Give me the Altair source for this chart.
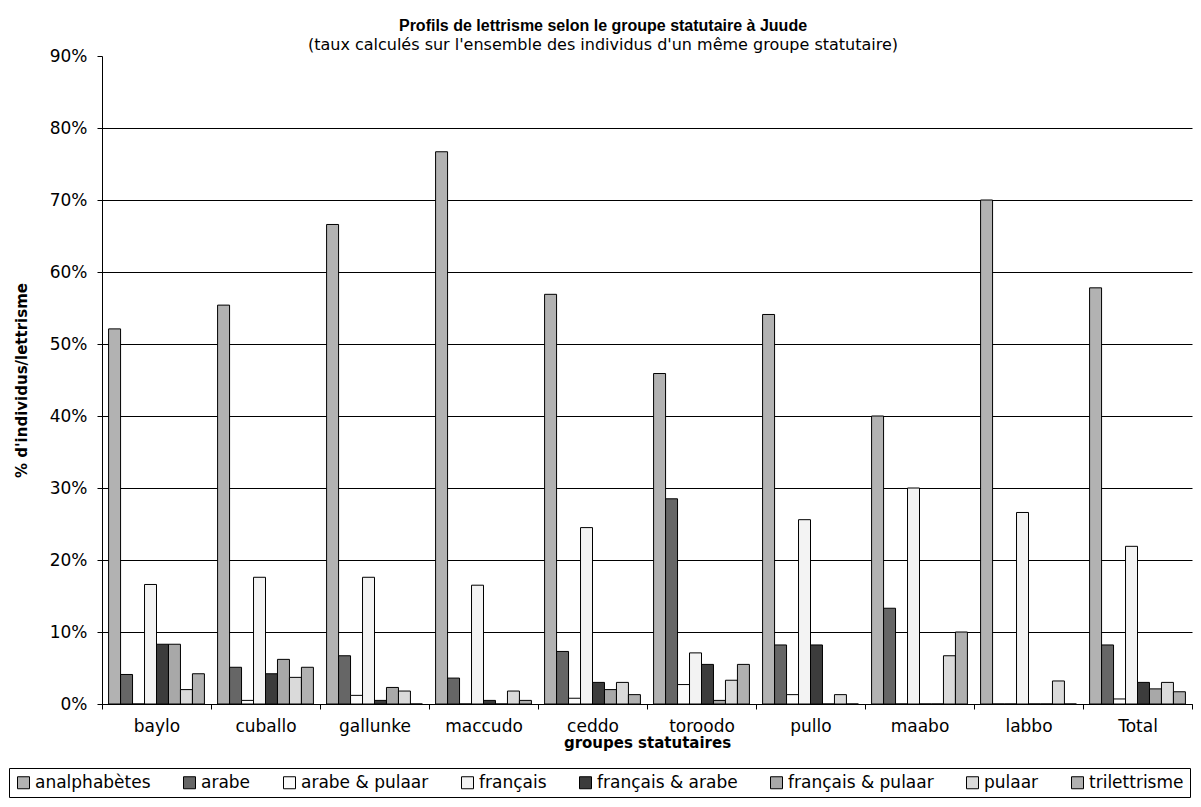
import altair as alt
import pandas as pd

categories = ["baylo", "cuballo", "gallunke", "maccudo", "ceddo", "toroodo",
              "pullo", "maabo", "labbo", "Total"]
series = ["analphabètes", "arabe", "arabe & pulaar", "français",
          "français & arabe", "français & pulaar", "pulaar", "trilettrisme"]

analphabetes = [52.1, 55.4, 66.6, 76.7, 56.9, 45.9, 54.1, 40.0, 70.0, 57.8]
arabe = [4.1, 5.1, 6.7, 3.6, 7.3, 28.5, 8.2, 13.3, 0.0, 8.2]
arabe_pulaar = [0.0, 0.5, 1.2, 0.0, 0.8, 2.7, 1.3, 0.0, 0.0, 0.7]
francais = [16.6, 17.6, 17.6, 16.5, 24.5, 7.1, 25.6, 30.0, 26.6, 21.9]
francais_arabe = [8.3, 4.2, 0.5, 0.5, 3.0, 5.5, 8.2, 0.0, 0.0, 3.0]
francais_pulaar = [8.3, 6.2, 2.3, 0.0, 2.0, 0.5, 0.0, 0.0, 0.0, 2.1]
pulaar = [2.0, 3.7, 1.8, 1.8, 3.0, 3.3, 1.3, 6.7, 3.2, 3.0]
trilettrisme = [4.2, 5.1, 0.0, 0.5, 1.3, 5.5, 0.0, 10.0, 0.0, 1.7]

colors = ["#b2b2b2", "#666666", "#fbfbfb", "#f3f3f3",
          "#3c3c3c", "#a8a8a8", "#dadada", "#b0b0b0"]

y_ticks = [0, 10, 20, 30, 40, 50, 60, 70, 80, 90]

values = [analphabetes, arabe, arabe_pulaar, francais,
          francais_arabe, francais_pulaar, pulaar, trilettrisme]
rows = []
for s, vals in zip(series, values):
    for c, v in zip(categories, vals):
        rows.append({"groupe": c, "lettrisme": s, "taux": v})
df = pd.DataFrame(rows)

FONT = "DejaVu Sans"

chart = alt.Chart(df).mark_bar(stroke="black", strokeWidth=1).encode(
    x=alt.X("groupe:N", sort=categories,
            scale=alt.Scale(paddingInner=0, paddingOuter=0),
            axis=alt.Axis(title="groupes statutaires", labelAngle=0,
                          tickBand="extent", tickSize=5, tickColor="black",
                          domainColor="black", labelFontSize=17,
                          labelPadding=9, titleFontSize=15, titleFontWeight="bold",
                          titlePadding=1, labelColor="black", titleColor="black",
                          grid=False)),
    xOffset=alt.XOffset("lettrisme:N", sort=series,
                        scale=alt.Scale(paddingInner=0, paddingOuter=0.55)),
    y=alt.Y("taux:Q", scale=alt.Scale(domain=[0, 90], nice=False),
            axis=alt.Axis(title="% d'individus/lettrisme", values=y_ticks,
                          labelExpr="datum.value + '%'", tickSize=5,
                          tickColor="black", domainColor="black",
                          labelFontSize=17, labelPadding=10, labelColor="black",
                          titleFontSize=15, titleFontWeight="bold",
                          titleColor="black", titlePadding=20,
                          grid=True, gridColor="black", gridWidth=1,
                          gridOpacity={"condition": {"test": "datum.value >= 90", "value": 0}, "value": 1})),
    color=alt.Color("lettrisme:N", sort=series,
                    scale=alt.Scale(domain=series, range=colors),
                    legend=alt.Legend(title=None, orient="none", direction="horizontal",
                                      columns=8, legendX=-93, legendY=712,
                                      symbolType="square", symbolSize=144,
                                      symbolStrokeColor="black", symbolStrokeWidth=1,
                                      labelFontSize=17, labelColor="black",
                                      labelOffset=3, columnPadding=30,
                                      strokeColor="black", padding=6)),
).properties(
    width=1090,
    height=648,
    title=alt.TitleParams(
        text="Profils de lettrisme selon le groupe statutaire à Juude",
        subtitle="(taux calculés sur l'ensemble des individus d'un même groupe statutaire)",
        anchor="middle", fontSize=16, fontWeight="bold", font="Liberation Sans",
        subtitleFont=FONT, subtitleFontSize=16, subtitleColor="black",
        color="black", subtitlePadding=3, offset=-6, dx=-44),
    padding={"left": 94, "top": 48, "right": 1, "bottom": 95},
    autosize=alt.AutoSizeParams(type="none"),
).configure(font=FONT).configure_view(stroke=None)

chart.save("out.html", embed_options={"renderer": "svg", "actions": False})
